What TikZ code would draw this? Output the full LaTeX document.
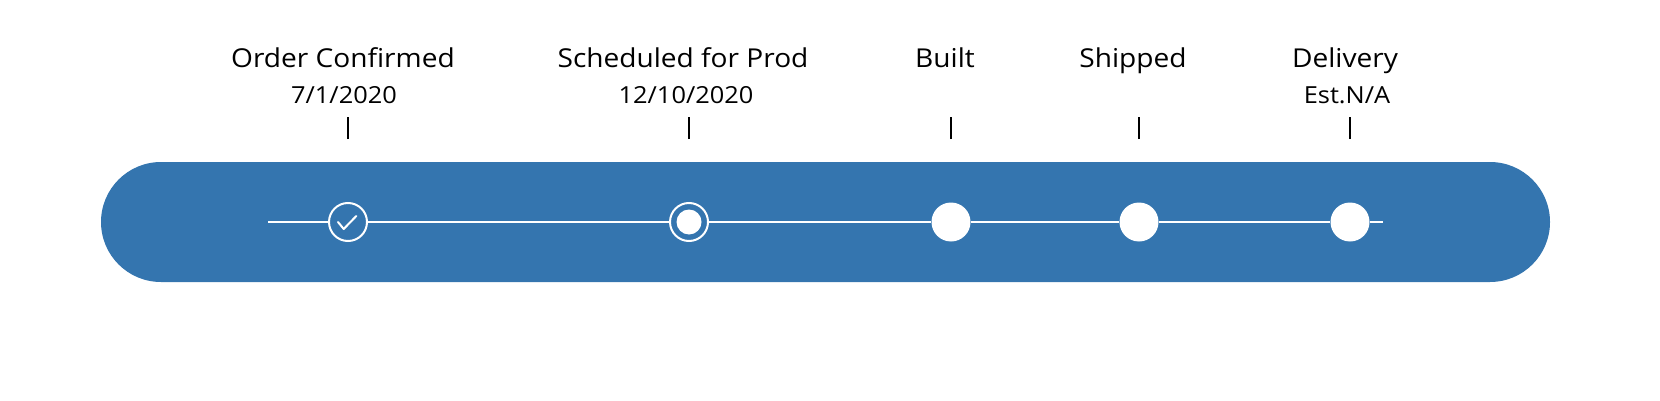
\documentclass[tikz,border=0pt]{standalone}
\usepackage{fontspec}
\setmainfont{Open Sans}
\newfontfamily\stagefont[FakeStretch=1.08]{Open Sans}
\usetikzlibrary{positioning}
\definecolor{trackblue}{RGB}{52,117,175}

\begin{document}
\begin{tikzpicture}[
  x=1pt,y=1pt,
  done/.style={draw=white,circle,line width=2pt,minimum size=38pt,inner sep=0pt},
  todo/.style={fill=white,circle,minimum size=39pt,inner sep=0pt},
  title/.style={font=\stagefont\fontsize{26}{30}\selectfont,anchor=base,inner sep=0pt},
  date/.style={font=\stagefont\fontsize{23.5}{27}\selectfont,anchor=base,inner sep=0pt},
  tick/.style={line width=2.4pt},
  track/.style={draw=white,line width=2pt}
]
\useasboundingbox (0,0) rectangle (1660,400);
\fill[trackblue,rounded corners=60pt] (101,118) rectangle (1550,238);

\node[done] (s1) at (348,178) {};
\node[done] (s2) at (689,178) {};
\node[todo] (s3) at (951,178) {};
\node[todo] (s4) at (1139,178) {};
\node[todo] (s5) at (1350,178) {};
\coordinate (start) at (268,178);
\coordinate (end) at (1383,178);

\draw[track] (start) -- (s1) -- (s2) -- (s3) -- (s4) -- (s5) -- (end);
\fill[white] (s2.center) circle (12.5pt);
\draw[white,line width=2pt,line cap=round,line join=round]
  ([shift={(-10,0)}]s1.center) -- ++(5.7,-7) -- ++(12.6,13);

% labels above the track
\node[title] (t1) at ([shift={(-5,154)}]s1.center) {Order Confirmed};
\node[date] (d1) at ([shift={(-4,119)}]s1.center) {7/1/2020};
\node[title] (t2) at ([shift={(-6,154)}]s2.center) {Scheduled for Prod};
\node[date] (d2) at ([shift={(-3,119)}]s2.center) {12/10/2020};
\node[title] (t3) at ([shift={(-6,154)}]s3.center) {Built};
\node[title] (t4) at ([shift={(-6,154)}]s4.center) {Shipped};
\node[title] (t5) at ([shift={(-5,154)}]s5.center) {Delivery};
\node[date] (d5) at ([shift={(-3,119)}]s5.center) {Est.N/A};

\foreach \s in {s1,s2,s3,s4,s5}
  \draw[tick] ([yshift=83pt]\s.center) -- ([yshift=105pt]\s.center);

\end{tikzpicture}
\end{document}
